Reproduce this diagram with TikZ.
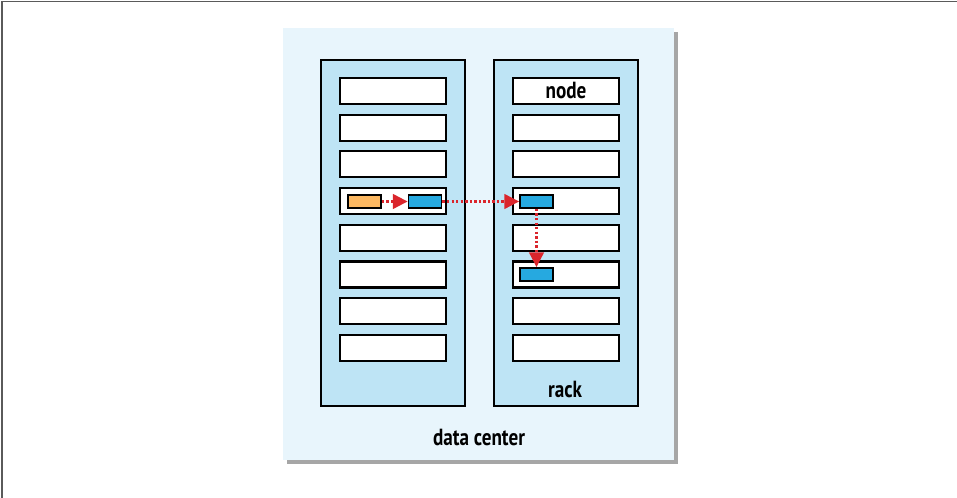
\documentclass[tikz,border=0pt]{standalone}
\usepackage{fontspec}
\newfontfamily\labelfont[FakeStretch=0.82]{PT Sans}
\usetikzlibrary{arrows.meta,shadows}

\definecolor{dcfill}{RGB}{232,245,252}
\definecolor{rackfill}{RGB}{190,228,245}
\definecolor{taskorange}{RGB}{252,184,98}
\definecolor{taskblue}{RGB}{38,169,224}
\definecolor{flowred}{RGB}{218,37,44}

\tikzset{
  rackbox/.style={draw=black, fill=rackfill, line width=1.6pt, minimum width=108pt, minimum height=259.5pt, inner sep=0pt},
  nodebox/.style={draw=black, fill=white, line width=1.6pt, minimum width=79.5pt, minimum height=19.5pt, inner sep=0pt},
  taskbox/.style={draw=black, line width=1.4pt, minimum width=24.75pt, minimum height=9.75pt, inner sep=0pt},
  flow/.style={draw=flowred, line width=1.6pt, dash pattern={on 1.8pt off 1.6pt}, -{Triangle[length=11pt,width=11pt]}},
  lbl/.style={font=\labelfont\bfseries\fontsize{17.5}{20}\selectfont, inner sep=0pt}
}

\begin{document}
\begin{tikzpicture}[x=0.75pt,y=0.75pt,yscale=-1,xscale=1]
\useasboundingbox (0,0) rectangle (957,498);

% frame
\draw [color={rgb, 255:red, 90; green, 90; blue, 90 }, line width=1.2pt] (2,498) -- (2,1.5) -- (957,1.5) ;

% data center panel
\node (dc) [fill=dcfill, minimum width=293.25pt, minimum height=324pt, inner sep=0pt,
  drop shadow={shadow xshift=3pt, shadow yshift=-3pt, fill=black, opacity=0.35}] at (478.5,244) {};

% racks
\node (rackL) [rackbox] at (393,233) {};
\node (rackR) [rackbox] at (566,233) {};

% nodes
\foreach \i in {1,...,8} {
  \node (nL\i) [nodebox] at (393,{91+(\i-1)*36.7}) {};
  \node (nR\i) [nodebox] at (566,{91+(\i-1)*36.7}) {};
}

% Text Node
\node (nodelbl) [lbl] at (nR1.center) {node};
% Text Node
\node (racklbl) [lbl] at (565,389) {rack};
% Text Node
\node (dclbl) [lbl] at (479,437) {data center};

% tasks
\node (tOrange) [taskbox, fill=taskorange] at (364.5,201.5) {};
\node (tBlueL) [taskbox, fill=taskblue] at (425,201.5) {};
\node (tBlueR) [taskbox, fill=taskblue] at (536.5,201.5) {};
\node (tBlueD) [taskbox, fill=taskblue] at (536.5,274.5) {};

% flows
\draw [flow] (tOrange.east) -- (tBlueL.west) ;
\draw [flow] (tBlueL.east) -- (tBlueR.west) ;
\draw [flow] (tBlueR.south) -- (tBlueD.north) ;

\end{tikzpicture}
\end{document}
